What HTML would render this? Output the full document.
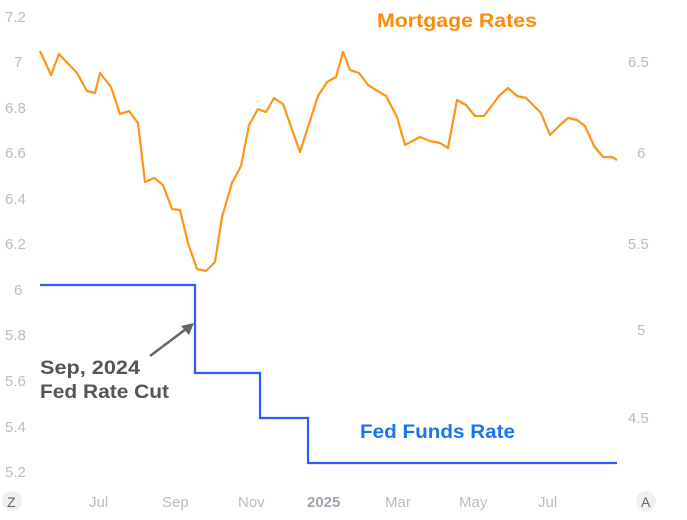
<!DOCTYPE html>
<html><head><style>body{margin:0;background:#fff}svg{display:block}</style></head><body>
<svg width="687" height="520" xmlns="http://www.w3.org/2000/svg" font-family="Liberation Sans, DejaVu Sans, sans-serif">
<g fill="#b8bcc4" font-size="15">
<text x="5" y="22">7.2</text><text x="14" y="67">7</text><text x="5" y="113">6.8</text><text x="5" y="158">6.6</text><text x="5" y="204">6.4</text><text x="5" y="249">6.2</text><text x="14" y="295">6</text><text x="5" y="340">5.8</text><text x="5" y="386">5.6</text><text x="5" y="432">5.4</text><text x="5" y="477">5.2</text>
<text x="628" y="67">6.5</text><text x="637" y="158">6</text><text x="628" y="249">5.5</text><text x="637" y="335">5</text><text x="628" y="423">4.5</text>
<text x="89" y="507">Jul</text><text x="162" y="507">Sep</text><text x="238" y="507">Nov</text><text x="385" y="507">Mar</text><text x="459" y="507">May</text><text x="538" y="507">Jul</text>
<text x="307" y="507" font-weight="bold" fill="#a0a4ac">2025</text>
</g>
<circle cx="12" cy="501" r="10" fill="#f0f0f2"/><text x="7" y="507" font-size="14" fill="#666">Z</text>
<circle cx="646" cy="501" r="10" fill="#f0f0f2"/><text x="641" y="507" font-size="14" fill="#666">A</text>
<polyline fill="none" stroke="#ff9418" stroke-width="2.2" stroke-linejoin="round" points="40,51 51,75 59,54 77,73 87,91 95,93 100,73 111,87 120,114 129,111 138,123 145,182 154,178 163,185 172,209 180,210 188,243 197,269 206,271 215,262 222,217 232,183 241,166 249,125 258,109 266,112 274,98 283,104 300,152 318,96 327,82 336,77 343,52 350,70 359,73 368,85 386,96 397,117 405,145 420,137 430,141 440,143 448,148 457,100 466,105 475,116 484,116 499,96 508,88 517,96 526,98 541,113 550,135 560,125 568,118 577,120 585,126 594,146 603,157 612,157 617,160"/>
<polyline fill="none" stroke="#2d5cf6" stroke-width="2.2" points="40,285 195,285 195,373 260,373 260,418 308,418 308,463 617,463"/>
<line x1="150" y1="356" x2="186" y2="329" stroke="#666" stroke-width="2.5"/>
<polygon points="194,323 181,326 189,335" fill="#666"/>
<text x="40" y="374" font-size="19" font-weight="bold" fill="#555" textLength="100" lengthAdjust="spacingAndGlyphs">Sep, 2024</text>
<text x="40" y="398" font-size="19" font-weight="bold" fill="#555" textLength="129" lengthAdjust="spacingAndGlyphs">Fed Rate Cut</text>
<text x="377" y="27" font-size="19" font-weight="bold" fill="#ff8a0a" textLength="160" lengthAdjust="spacingAndGlyphs">Mortgage Rates</text>
<text x="360" y="438" font-size="19" font-weight="bold" fill="#1a73f5" textLength="155" lengthAdjust="spacingAndGlyphs">Fed Funds Rate</text>
</svg>
</body></html>
